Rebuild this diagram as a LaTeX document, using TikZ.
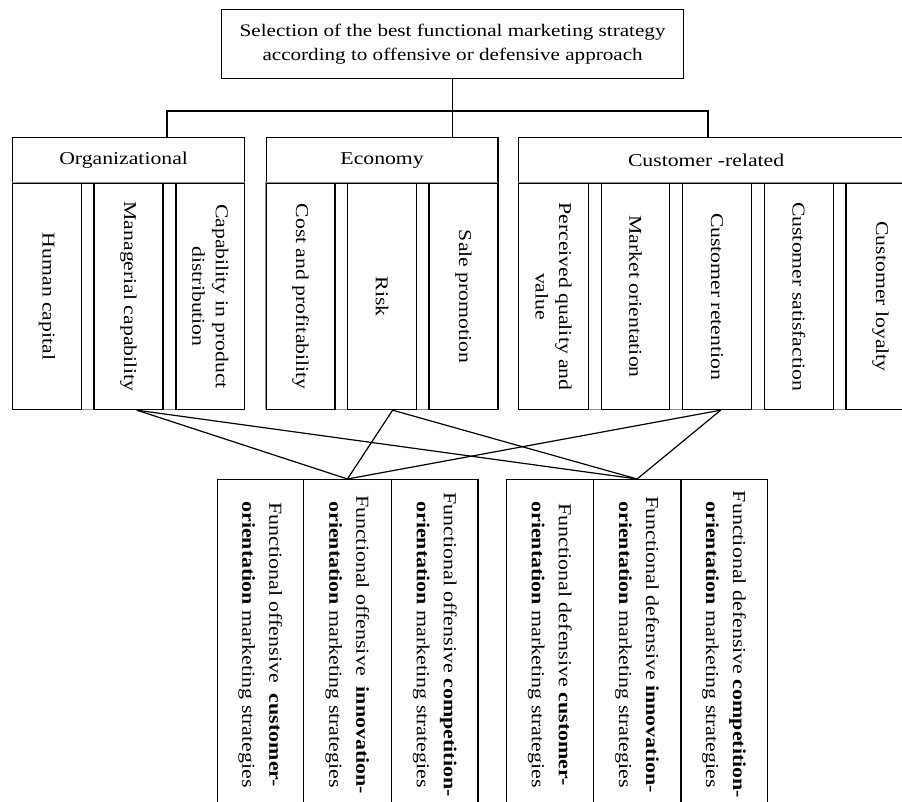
\documentclass[tikz,border=0pt]{standalone}
\usepackage{fontspec}
\setmainfont{Liberation Serif}[FakeStretch=1.2]
\usepackage{graphicx}
\newcommand\tfont{\fontsize{17.6}{23.5}\selectfont}
\newcommand\hfont{\fontsize{18.1}{23.5}\selectfont}
\newcommand\bfont{\fontsize{18.3}{27}\selectfont}
\newcommand\vtxt[2]{\rotatebox{-90}{\parbox{#1}{\centering #2}}}
\tikzset{
  box/.style={draw=black, line width=1.2pt, inner sep=0pt, anchor=north west, rectangle, font=\hfont},
  gapline/.style={draw=black!45, line width=1pt},
  conn/.style={draw=black, line width=1.2pt},
}
\begin{document}
\begin{tikzpicture}[x=1pt,y=-1pt]
\useasboundingbox (0,0) rectangle (902,802);
\clip (0,0) rectangle (902,802);
% top
\node[box, minimum width=462pt, minimum height=69pt, align=center, font=\tfont] (top) at (221,9)
  {Selection of the best functional marketing strategy\\according to offensive or defensive approach};
% junction points of the tree
\coordinate (jl) at (167,111);
\coordinate (jr) at (708,111);
% Organizational
\node[box, minimum width=232pt, minimum height=46pt] (org) at (12,137) {\hspace*{-10pt}Organizational};
\draw[gapline] (12,183) rectangle (244,409);
\node[box, minimum width=69pt, minimum height=226pt] (hc) at (12,183) {\vtxt{215pt}{Human capital}};
\node[box, minimum width=69pt, minimum height=226pt] (mc) at (93.3,183) {\vtxt{215pt}{Managerial capability}};
\node[box, minimum width=68.7pt, minimum height=226pt] (cpd) at (175.3,183) {\vtxt{215pt}{Capability in product\\distribution}};
% Economy
\node[box, minimum width=231.6pt, minimum height=46pt] (eco) at (265.7,137) {Economy};
\draw[gapline] (265.7,183) rectangle (497.3,409);
\node[box, minimum width=68.6pt, minimum height=226pt] (cp) at (265.7,183) {\vtxt{215pt}{Cost and profitability}};
\node[box, minimum width=69pt, minimum height=226pt] (risk) at (347,183) {\vtxt{215pt}{Risk}};
\node[box, minimum width=69pt, minimum height=226pt] (sp) at (428.3,183) {\vtxt{215pt}{Sale promotion}};
% Customer-related
\node[box, minimum width=396pt, minimum height=46pt] (cust) at (518,137) {\hspace*{-21pt}Customer -related};
\draw[gapline] (518,183) rectangle (914,409);
\node[box, minimum width=69.7pt, minimum height=226pt] (pqv) at (518,183) {\vtxt{215pt}{Perceived quality and\\value}};
\node[box, minimum width=68.3pt, minimum height=226pt] (mo) at (600.7,183) {\vtxt{215pt}{Market orientation}};
\node[box, minimum width=68.7pt, minimum height=226pt] (cr) at (682,183) {\vtxt{215pt}{Customer retention}};
\node[box, minimum width=69pt, minimum height=226pt] (cs) at (763.7,183) {\vtxt{215pt}{Customer satisfaction}};
\node[box, minimum width=69pt, minimum height=226pt] (cl) at (845.3,183) {\vtxt{215pt}{Customer loyalty}};
% bottom strategies
\node[box, minimum width=86pt, minimum height=330pt, font=\bfont] (oc) at (216.7,479)
  {\vtxt{325pt}{Functional offensive \ \textbf{customer-}\\\textbf{orientation} marketing strategies}};
\node[box, minimum width=88.3pt, minimum height=330pt, font=\bfont] (oi) at (302.7,479)
  {\vtxt{325pt}{Functional offensive \ \textbf{innovation-}\\\textbf{orientation} marketing strategies}};
\node[box, minimum width=86.3pt, minimum height=330pt, font=\bfont] (ok) at (391,479)
  {\vtxt{325pt}{Functional offensive \textbf{competition-}\\\textbf{orientation} marketing strategies}};
\node[box, minimum width=86.7pt, minimum height=330pt, font=\bfont] (dc) at (506,479)
  {\vtxt{325pt}{Functional defensive \textbf{customer-}\\\textbf{orientation} marketing strategies}};
\node[box, minimum width=87.6pt, minimum height=330pt, font=\bfont] (di) at (592.7,479)
  {\vtxt{325pt}{Functional defensive \textbf{innovation-}\\\textbf{orientation} marketing strategies}};
\node[box, minimum width=86.4pt, minimum height=330pt, font=\bfont] (dk) at (680.3,479)
  {\vtxt{325pt}{Functional defensive \textbf{competition-}\\\textbf{orientation} marketing strategies}};
% tree connectors
\draw[conn] (top.south) -- (top.south |- eco.north);
\draw[conn] (org.north -| jl) |- (jr) -- (cust.north -| jr);
% cross connectors
\coordinate (a) at ([xshift=8.5pt]mc.south);
\coordinate (b) at ([xshift=10.5pt]risk.south);
\coordinate (c) at ([xshift=3.7pt]cr.south);
\foreach \s in {a,b,c}{
  \draw[conn] (\s) -- (oi.north);
  \draw[conn] (\s) -- (di.north);
}
\end{tikzpicture}
\end{document}
